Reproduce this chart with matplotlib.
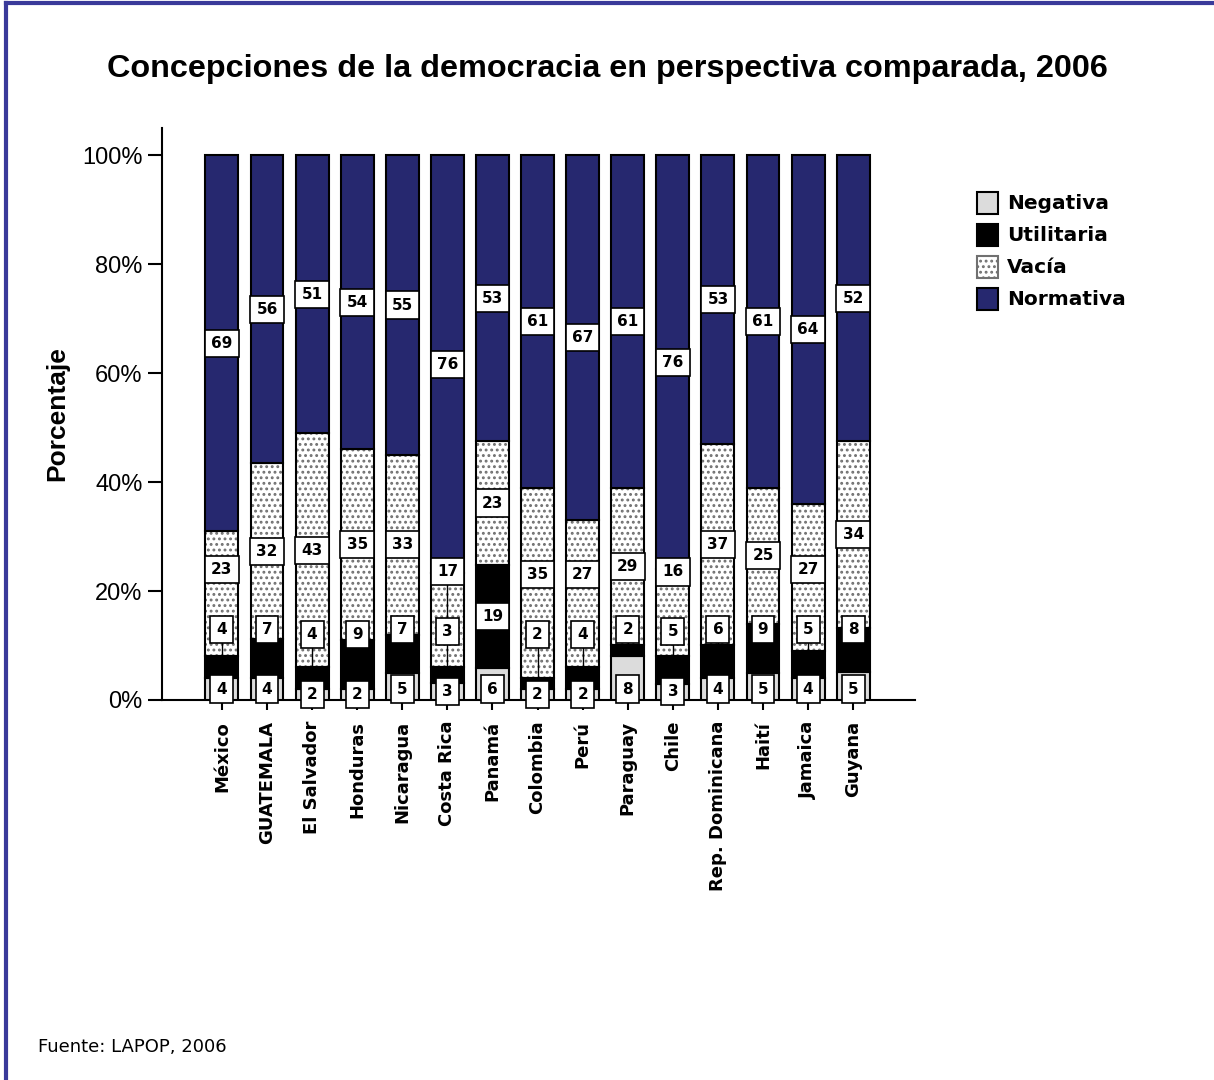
import numpy as np
import matplotlib.pyplot as plt
from matplotlib.patches import Patch

# Data (percent of respondents)
paises = ['México', 'GUATEMALA', 'El Salvador', 'Honduras', 'Nicaragua', 'Costa Rica',
          'Panamá', 'Colombia', 'Perú', 'Paraguay', 'Chile', 'Rep. Dominicana',
          'Haití', 'Jamaica', 'Guyana']
negativa = [4, 4, 2, 2, 5, 3, 6, 2, 2, 8, 3, 4, 5, 4, 5]
utilitaria = [4, 7, 4, 9, 7, 3, 19, 2, 4, 2, 5, 6, 9, 5, 8]
vacia = [23, 32, 43, 35, 33, 17, 23, 35, 27, 29, 16, 37, 25, 27, 34]
normativa = [69, 56, 51, 54, 55, 76, 53, 61, 67, 61, 76, 53, 61, 64, 52]

series = ['Negativa', 'Utilitaria', 'Vacía', 'Normativa']
valores = [negativa, utilitaria, vacia, normativa]
colores = ['#dcdcdc', '#000000', '#ffffff', '#26286f']

plt.rcParams['hatch.linewidth'] = 1.3

fig = plt.figure(figsize=(12.14, 10.8), dpi=100)
ax = fig.add_axes([0.1334, 0.3519, 0.6203, 0.5296])

x = np.arange(len(paises))
ancho = 0.73
base = np.zeros(len(paises))
# totals per country, used to stack to 100%
tot = np.array([sum(v[i] for v in valores) for i in range(len(paises))], dtype=float)

for nombre, vals, col in zip(series, valores, colores):
    h = np.array(vals, dtype=float) / tot * 100
    if nombre == 'Vacía':
        ax.bar(x, h, ancho, bottom=base, color='white', edgecolor='#707070',
               hatch='...', linewidth=0, zorder=2)
        ax.bar(x, h, ancho, bottom=base, fill=False, edgecolor='black', linewidth=1.5, zorder=3)
    else:
        ax.bar(x, h, ancho, bottom=base, color=col, edgecolor='black', linewidth=1.5, zorder=3)
    base = base + h

# value labels, pushed apart so the boxes do not overlap
for i in range(len(paises)):
    abajo = 0.0
    prev = None
    for k, vals in enumerate(valores):
        h = vals[i] / tot[i] * 100
        centro = abajo + h / 2
        if k == 0:
            y = min(centro, 2.0)
        else:
            y = max(centro, prev + 11)
        if abs(y - centro) > h / 2 and k > 0:
            ax.plot([i, i], [centro, y], color='black', lw=1, zorder=4)
        ax.text(i, y, str(vals[i]), ha='center', va='center', fontsize=11,
                fontweight='bold', zorder=5,
                bbox=dict(boxstyle='square,pad=0.4', fc='white', ec='black', lw=1.2))
        prev = y
        abajo += h

ax.set_xlim(-1.33, 15.37)
ax.set_ylim(0, 105)
ax.set_yticks([0, 20, 40, 60, 80, 100])
ax.set_yticklabels(['0%', '20%', '40%', '60%', '80%', '100%'], family='Liberation Sans', fontsize=17)
ax.set_xticks(x)
ax.set_xticklabels(paises, rotation=90, fontweight='bold', fontsize=13)
ax.tick_params(axis='y', length=10, width=1.5, pad=4)
ax.tick_params(axis='x', length=7, width=1.5, pad=8)
for s in ['top', 'right']:
    ax.spines[s].set_visible(False)
ax.spines['left'].set_linewidth(1.5)
ax.spines['bottom'].set_linewidth(1.5)
ax.set_ylabel('Porcentaje', fontweight='bold', fontsize=19, family='Liberation Sans', labelpad=9)

handles = [Patch(facecolor=colores[0], edgecolor='black', lw=1.5),
           Patch(facecolor=colores[1], edgecolor='black', lw=1.5),
           Patch(facecolor='white', edgecolor='#707070', hatch='...', lw=1.5),
           Patch(facecolor=colores[3], edgecolor='black', lw=1.5)]
fig.legend(handles, series, loc='upper left', bbox_to_anchor=(0.798, 0.830), frameon=False,
           prop={'weight': 'bold', 'size': 14.5}, handlelength=1.05, handleheight=1.3,
           handletextpad=0.45, labelspacing=0.5, borderaxespad=0)

fig.text(0.5, 0.936, 'Concepciones de la democracia en perspectiva comparada, 2006',
         ha='center', va='center', fontsize=23.3, fontweight='bold', family='Liberation Sans')
fig.text(0.031, 0.031, 'Fuente: LAPOP, 2006', fontsize=13, va='center')

# thin frame on top and left edges as in the original export
fig.add_artist(plt.Line2D([0.005, 0.005], [0, 0.997], color='#3a3a9a', lw=3, transform=fig.transFigure))
fig.add_artist(plt.Line2D([0.005, 1], [0.997, 0.997], color='#3a3a9a', lw=3, transform=fig.transFigure))

fig.savefig('out.png', dpi=100)
